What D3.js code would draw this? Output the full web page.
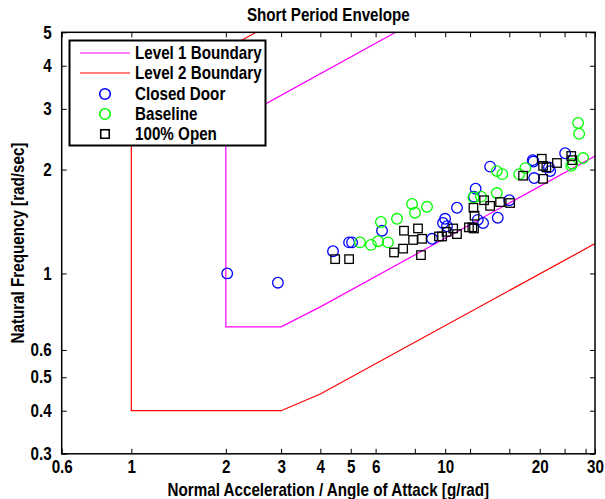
<!DOCTYPE html>
<html><head><meta charset="utf-8">
<script src="https://cdn.jsdelivr.net/npm/d3@7"></script>
<style>
body{margin:0;background:#fff}
text{font-family:"Liberation Sans",Arial,Helvetica,sans-serif;font-weight:bold;fill:#000;
  transform-box:fill-box;transform-origin:center;transform:scaleY(1.17)}
</style>
</head><body>
<svg id="chart" width="605" height="499"></svg>
<script>
// ---------- data ----------
const titleText = "Short Period Envelope";
const xLabelText = "Normal Acceleration / Angle of Attack [g/rad]";
const yLabelText = "Natural Frequency [rad/sec]";
const xTickValues = [0.6, 1, 2, 3, 4, 5, 6, 10, 20, 30];
const xExtraTicks = [8, 12, 16, 24, 28];
const yTickValues = [0.3, 0.4, 0.5, 0.6, 1, 2, 3, 4, 5];
const xDomain = [0.6, 30];
const yDomain = [0.3, 5];

const level1X = [10, 2, 2, 3, 4, 30];
const level1Y = [6, 2.68, 0.7, 0.7, 0.8, 2.19];
const level2X = [3, 1, 1, 3, 4, 30];
const level2Y = [5.48, 3.16, 0.4, 0.4, 0.447, 1.22];

const closedDoorX = [2.02, 2.93, 4.39, 4.94, 5.05, 6.29, 9.08, 9.84, 9.99, 10.13, 10.9, 12.5, 12.35, 12.7, 13.2, 14.7, 16.0, 13.9, 19.0, 19.1, 19.2, 21.6, 21.4, 24.1];
const closedDoorY = [1.00, 0.94, 1.16, 1.23, 1.23, 1.33, 1.26, 1.40, 1.44, 1.37, 1.55, 1.76, 1.67, 1.43, 1.40, 1.45, 1.63, 2.04, 2.13, 2.11, 1.89, 1.98, 2.03, 2.23];

const baselineX = [5.35, 5.80, 6.11, 6.57, 6.24, 7.02, 7.84, 8.01, 8.75, 12.3, 13.0, 14.6, 14.6, 15.2, 17.2, 18.0, 25.4, 27.5, 26.5, 26.7, 25.2];
const baselineY = [1.23, 1.21, 1.24, 1.23, 1.41, 1.44, 1.59, 1.50, 1.56, 1.66, 1.67, 1.71, 1.98, 1.94, 1.94, 2.02, 2.08, 2.16, 2.73, 2.54, 2.05];

const openX = [4.46, 4.94, 6.87, 7.34, 7.39, 8.19, 7.90, 8.44, 8.37, 9.55, 9.77, 10.1, 10.6, 10.9, 11.9, 12.2, 12.35, 12.3, 12.4, 13.3, 13.9, 14.95, 16.1, 17.7, 20.3, 20.5, 21.0, 20.5, 22.7, 25.2, 25.4];
const openY = [1.10, 1.10, 1.15, 1.18, 1.33, 1.35, 1.25, 1.26, 1.13, 1.28, 1.28, 1.32, 1.35, 1.30, 1.36, 1.36, 1.35, 1.55, 1.47, 1.63, 1.57, 1.61, 1.60, 1.92, 2.15, 2.05, 2.03, 1.88, 2.09, 2.19, 2.13];

const legendLabels = ["Level 1 Boundary", "Level 2 Boundary", "Closed Door", "Baseline", "100% Open"];

// ---------- layout ----------
const W = 605, H = 499;
const m = {left: 61.7, right: 10, top: 32.3, bottom: 45.2};
const FS = 15.2;
const svg = d3.select("#chart");
const x = d3.scaleLog().domain(xDomain).range([m.left, W - m.right]);
const y = d3.scaleLog().domain(yDomain).range([H - m.bottom, m.top]);
const x0 = m.left, x1 = W - m.right, y0 = m.top, y1 = H - m.bottom;

svg.append("rect").attr("width", W).attr("height", H).attr("fill", "#fff");

svg.append("defs").append("clipPath").attr("id", "clip")
  .append("rect").attr("x", x0).attr("y", y0).attr("width", x1 - x0).attr("height", y1 - y0);

const tickLen = 5;
const fmt = d => String(d);
const styleText = g => g.selectAll("text").attr("font-size", FS)
  .attr("font-family", "'Liberation Sans',Arial,sans-serif")
  .attr("font-weight", "bold");

// bottom axis
svg.append("g").attr("transform", `translate(0,${y1})`)
  .call(d3.axisBottom(x).tickValues(xTickValues).tickFormat(fmt).tickSizeInner(-tickLen).tickSizeOuter(0).tickPadding(8))
  .call(g => { g.select(".domain").remove(); styleText(g); g.selectAll("line").attr("stroke", "#000"); });
svg.append("g").attr("transform", `translate(0,${y1})`)
  .call(d3.axisBottom(x).tickValues(xExtraTicks).tickFormat("").tickSizeInner(-tickLen).tickSizeOuter(0))
  .call(g => { g.select(".domain").remove(); g.selectAll("line").attr("stroke", "#000"); });
// top axis
svg.append("g").attr("transform", `translate(0,${y0})`)
  .call(d3.axisTop(x).tickValues(xTickValues.concat(xExtraTicks)).tickFormat("").tickSizeInner(-tickLen).tickSizeOuter(0))
  .call(g => { g.select(".domain").remove(); g.selectAll("line").attr("stroke", "#000"); });
// left axis
svg.append("g").attr("transform", `translate(${x0},0)`)
  .call(d3.axisLeft(y).tickValues(yTickValues).tickFormat(fmt).tickSizeInner(-tickLen).tickSizeOuter(0).tickPadding(10))
  .call(g => { g.select(".domain").remove(); styleText(g); g.selectAll("line").attr("stroke", "#000"); });
// right axis
svg.append("g").attr("transform", `translate(${x1},0)`)
  .call(d3.axisRight(y).tickValues(yTickValues).tickFormat("").tickSizeInner(-tickLen).tickSizeOuter(0))
  .call(g => { g.select(".domain").remove(); g.selectAll("line").attr("stroke", "#000"); });

// boundaries
const line = d3.line().x(d => x(d[0])).y(d => y(d[1]));
const plot = svg.append("g").attr("clip-path", "url(#clip)");
plot.append("path").datum(level1X.map((v, i) => [v, level1Y[i]]))
  .attr("d", line).attr("fill", "none").attr("stroke", "#ff00ff").attr("stroke-width", 1.2);
plot.append("path").datum(level2X.map((v, i) => [v, level2Y[i]]))
  .attr("d", line).attr("fill", "none").attr("stroke", "#ff0000").attr("stroke-width", 1.2);

// markers
const R = 5.3, S = 8.5;
plot.selectAll("circle.cd").data(closedDoorX.map((v, i) => [v, closedDoorY[i]])).enter()
  .append("circle").attr("class", "cd").attr("cx", d => x(d[0])).attr("cy", d => y(d[1])).attr("r", R)
  .attr("fill", "none").attr("stroke", "#0000ff").attr("stroke-width", 1.3);
plot.selectAll("circle.bl").data(baselineX.map((v, i) => [v, baselineY[i]])).enter()
  .append("circle").attr("class", "bl").attr("cx", d => x(d[0])).attr("cy", d => y(d[1])).attr("r", R)
  .attr("fill", "none").attr("stroke", "#00ff00").attr("stroke-width", 1.3);
plot.selectAll("rect.op").data(openX.map((v, i) => [v, openY[i]])).enter()
  .append("rect").attr("class", "op").attr("x", d => x(d[0]) - S / 2).attr("y", d => y(d[1]) - S / 2)
  .attr("width", S).attr("height", S)
  .attr("fill", "none").attr("stroke", "#000").attr("stroke-width", 1.3);

// frame
svg.append("rect").attr("x", x0).attr("y", y0).attr("width", x1 - x0).attr("height", y1 - y0)
  .attr("fill", "none").attr("stroke", "#000").attr("stroke-width", 1.5);

// title + labels
svg.append("text").attr("x", (x0 + x1) / 2).attr("y", 20).attr("text-anchor", "middle")
  .attr("font-size", FS).text(titleText);
svg.append("text").attr("x", (x0 + x1) / 2).attr("y", 495).attr("text-anchor", "middle")
  .attr("font-size", FS).text(xLabelText);
svg.append("g").attr("transform", `translate(23,${(y0 + y1) / 2}) rotate(-90)`)
  .append("text").attr("x", 0).attr("y", 0).attr("text-anchor", "middle")
  .attr("font-size", FS).text(yLabelText);

// legend
const lg = svg.append("g");
lg.append("rect").attr("x", 69.5).attr("y", 40.5).attr("width", 196).attr("height", 105)
  .attr("fill", "#fff").attr("stroke", "#000").attr("stroke-width", 2);
const rowY = [53, 73, 94, 114, 134];
const textX = 135, symX = 105;
legendLabels.forEach((lab, i) => {
  lg.append("text").attr("x", textX).attr("y", rowY[i]).attr("dy", "0.36em").attr("font-size", FS).text(lab);
});
lg.append("line").attr("x1", 80).attr("x2", 130).attr("y1", rowY[0]).attr("y2", rowY[0]).attr("stroke", "#ff00ff").attr("stroke-width", 1.2);
lg.append("line").attr("x1", 80).attr("x2", 130).attr("y1", rowY[1]).attr("y2", rowY[1]).attr("stroke", "#ff0000").attr("stroke-width", 1.2);
lg.append("circle").attr("cx", symX).attr("cy", rowY[2]).attr("r", R).attr("fill", "none").attr("stroke", "#0000ff").attr("stroke-width", 1.6);
lg.append("circle").attr("cx", symX).attr("cy", rowY[3]).attr("r", R).attr("fill", "none").attr("stroke", "#00ff00").attr("stroke-width", 1.6);
lg.append("rect").attr("x", symX - S / 2).attr("y", rowY[4] - S / 2).attr("width", S).attr("height", S).attr("fill", "none").attr("stroke", "#000").attr("stroke-width", 1.6);
</script>
</body></html>
